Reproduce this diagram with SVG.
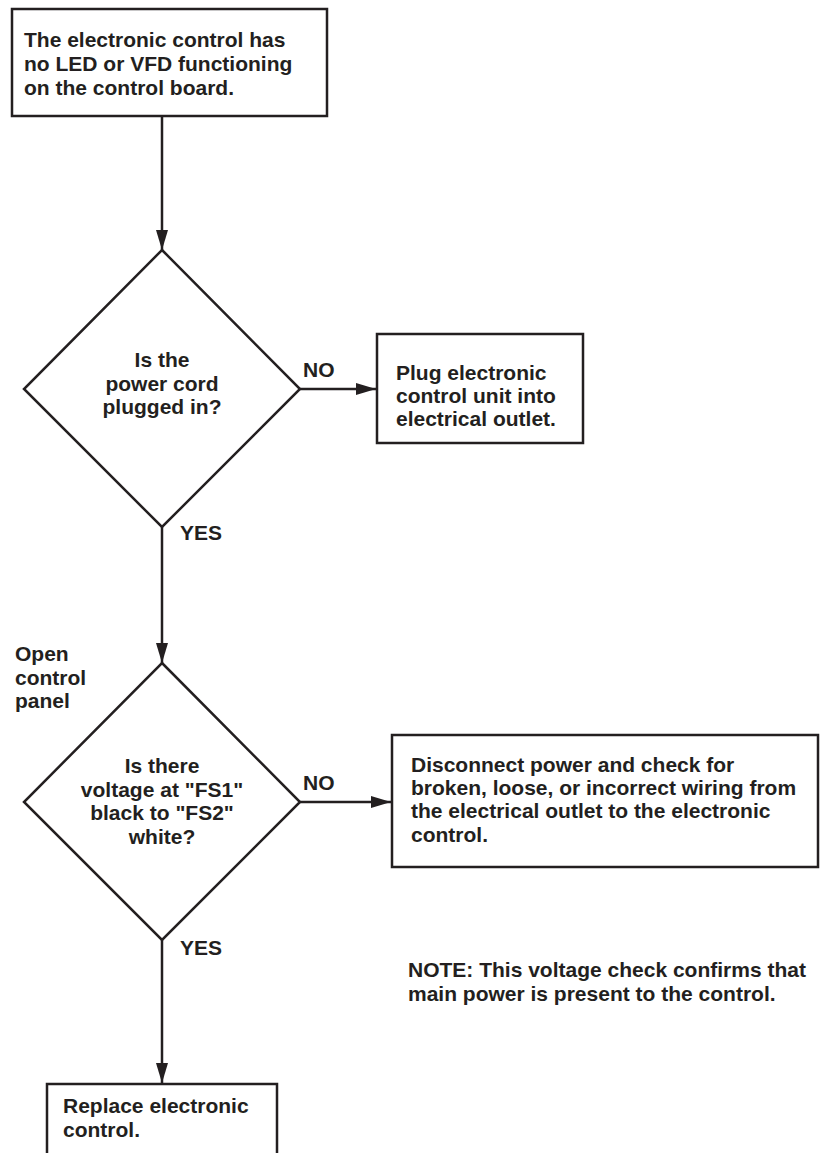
<svg xmlns="http://www.w3.org/2000/svg" width="820" height="1153" viewBox="0 0 820 1153">
<style>
.box{fill:#fff;stroke:#231f20;stroke-width:2.5}
.t{font-family:"Liberation Sans",Arial,Helvetica,sans-serif;font-weight:bold;font-size:21px;fill:#231f20}
.c{text-anchor:middle}
.ln{stroke:#231f20;stroke-width:2.5;fill:none}
</style>
<defs>
<marker id="arr" markerUnits="userSpaceOnUse" markerWidth="20" markerHeight="12" refX="20" refY="6" orient="auto">
<path d="M0,0 L20,6 L0,12 z" fill="#231f20"/>
</marker>
</defs>
<rect width="820" height="1153" fill="#fff"/>
<g id="connectors">
<line class="ln" x1="162" y1="116" x2="162" y2="250" marker-end="url(#arr)"/>
<line class="ln" x1="300" y1="389" x2="376" y2="389" marker-end="url(#arr)"/>
<line class="ln" x1="162" y1="527" x2="162" y2="663" marker-end="url(#arr)"/>
<line class="ln" x1="300" y1="802" x2="391" y2="802" marker-end="url(#arr)"/>
<line class="ln" x1="162" y1="940" x2="162" y2="1083" marker-end="url(#arr)"/>
<text class="t" x="303" y="377">NO</text>
<text class="t" x="180" y="540">YES</text>
<text class="t" x="303" y="790">NO</text>
<text class="t" x="180" y="955">YES</text>
</g>
<g id="start">
<rect class="box" x="12" y="9" width="315" height="107"/>
<text class="t" x="24" y="47">The electronic control has</text>
<text class="t" x="24" y="71">no LED or VFD functioning</text>
<text class="t" x="24" y="95">on the control board.</text>
</g>
<g id="decision1">
<polygon class="box" points="162,250 300,389 162,527 24,389"/>
<text class="t c" x="162" y="367">Is the</text>
<text class="t c" x="162" y="391">power cord</text>
<text class="t c" x="162" y="414">plugged in?</text>
</g>
<g id="plug">
<rect class="box" x="377" y="334" width="206" height="109"/>
<text class="t" x="396" y="380">Plug electronic</text>
<text class="t" x="396" y="403">control unit into</text>
<text class="t" x="396" y="426">electrical outlet.</text>
</g>
<g id="open-panel">
<text class="t" x="15" y="661">Open</text>
<text class="t" x="15" y="685">control</text>
<text class="t" x="15" y="708">panel</text>
</g>
<g id="decision2">
<polygon class="box" points="162,663 300,802 162,940 24,802"/>
<text class="t c" x="162" y="773">Is there</text>
<text class="t c" x="162" y="797">voltage at "FS1"</text>
<text class="t c" x="162" y="820">black to "FS2"</text>
<text class="t c" x="162" y="844">white?</text>
</g>
<g id="disconnect">
<rect class="box" x="392" y="735" width="426" height="132"/>
<text class="t" x="411" y="772">Disconnect power and check for</text>
<text class="t" x="411" y="795">broken, loose, or incorrect wiring from</text>
<text class="t" x="411" y="818">the electrical outlet to the electronic</text>
<text class="t" x="411" y="842">control.</text>
</g>
<g id="note">
<text class="t" x="408" y="977">NOTE: This voltage check confirms that</text>
<text class="t" x="408" y="1001">main power is present to the control.</text>
</g>
<g id="replace">
<rect class="box" x="47" y="1084" width="230" height="80"/>
<text class="t" x="63" y="1113">Replace electronic</text>
<text class="t" x="63" y="1137">control.</text>
</g>
</svg>
